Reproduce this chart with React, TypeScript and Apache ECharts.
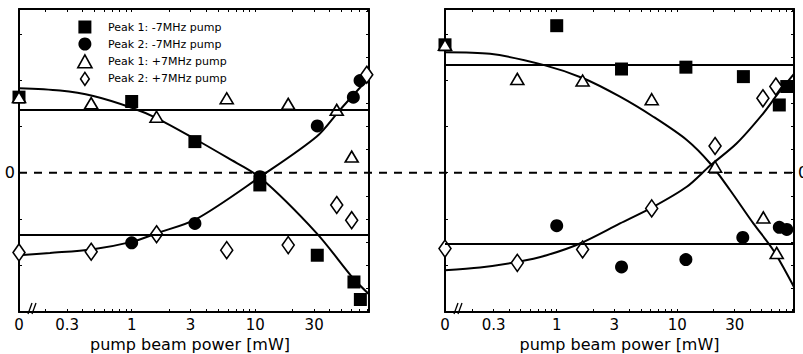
import React, { useEffect, useRef } from 'react';
import * as echarts from 'echarts';

// ---- data (x in mW, 0 = no pump; y in arbitrary frequency-shift units) ----
const seriesNames = ['Peak 1: -7MHz pump', 'Peak 2: -7MHz pump', 'Peak 1: +7MHz pump', 'Peak 2: +7MHz pump'];
const xTickLabelValues = [0, 0.3, 1, 3, 10, 30];
const xTickLabelTexts = ['0', '0.3', '1', '3', '10', '30'];
const xMinorTicks = [0.2, 0.3, 0.4, 0.5, 0.6, 0.7, 0.8, 0.9, 1, 2, 3, 4, 5, 6, 7, 8, 9, 10, 20, 30, 40, 50, 60, 70, 80, 90];
const yTicksEvery2 = [-6, -4, -2, 0, 2, 4, 6];
const yTicksEvery1 = [-6, -5, -4, -3, -2, -1, 0, 1, 2, 3, 4, 5, 6, 7];
const yRange = [-6.043, 7.104];
const leftRangeMw = [0.1224, 83.4];
const rightRangeMw = [0.1183, 93.1];

const leftSquares = [[0, 3.28], [1, 3.09], [3.25, 1.35], [10.9, -0.53], [31.8, -3.58], [63, -4.74], [71, -5.5]];
const leftCircles = [[1, -3.04], [3.25, -2.2], [10.9, -0.17], [31.8, 2.03], [62.3, 3.28], [70.6, 4.0]];
const leftTriangles = [[0, 3.28], [0.47, 3.02], [1.59, 2.43], [5.88, 3.23], [18.5, 2.99], [45.7, 2.73], [60.4, 0.7]];
const leftDiamonds = [[0, -3.46], [0.47, -3.43], [1.59, -2.67], [5.88, -3.36], [18.5, -3.14], [45.7, -1.4], [60.4, -2.06], [80, 4.25]];
const leftCurveA = [[0, 3.67], [0.263, 3.57], [0.489, 3.33], [1.0, 2.82], [1.59, 2.37], [3.36, 1.42], [6.0, 0.64], [10.9, -0.2], [31.5, -2.63], [62.3, -4.59], [83.4, -5.27]];
const leftCurveB = [[0, -3.58], [0.218, -3.48], [0.474, -3.33], [1, -3.0], [1.59, -2.63], [3.36, -2.0], [10.9, -0.19], [31.5, 1.57], [48.6, 2.73], [83.4, 4.12]];
const leftLevels = [2.73, -2.71];

const rightSquares = [[0, 5.55], [1, 6.38], [3.45, 4.5], [11.8, 4.58], [35.4, 4.17], [70.3, 2.94], [81.1, 3.74]];
const rightCircles = [[1, -2.3], [3.45, -4.09], [11.8, -3.77], [35.0, -2.81], [70.3, -2.37], [81.1, -2.46]];
const rightTriangles = [[0, 5.55], [0.471, 4.07], [1.64, 4.0], [6.14, 3.19], [20.6, 0.26], [51.8, -1.94], [66.9, -3.48]];
const rightDiamonds = [[0, -3.29], [0.471, -3.91], [1.64, -3.33], [6.14, -1.55], [20.6, 1.16], [51.4, 3.23], [65.8, 3.74]];
const rightCurveA = [[0, 5.23], [0.28, 5.16], [0.774, 4.68], [1.66, 4.1], [3.35, 3.3], [6.33, 2.43], [12.0, 1.42], [18.7, 0.41], [27.4, -0.75], [42.8, -2.2], [62.7, -3.36], [93.1, -4.96]];
const rightCurveB = [[0, -4.23], [0.231, -4.11], [0.471, -3.87], [0.826, -3.58], [1.56, -3.07], [3.35, -2.2], [6.33, -1.48], [12.0, -0.61], [18.7, 0.3], [31.2, 1.28], [51.8, 2.58], [69.0, 3.45], [93.1, 4.29]];
const rightLevels = [4.68, -3.1];

const FONT = 'DejaVu Sans';

const toAxisX = (p: number, minMw: number) => (p === 0 ? Math.log10(minMw) : Math.log10(p));

function buildPanel(idx: number, cfg: any) {
  const [minMw, maxMw] = cfg.range;
  const xmin = Math.log10(minMw);
  const xmax = Math.log10(maxMw);
  const conv = (arr: number[][]) => arr.map(([p, y]) => [toAxisX(p, minMw), y]);
  const labelVals = xTickLabelValues.map((p) => toAxisX(p, minMw));
  const fmt = (v: number) => {
    for (let i = 0; i < labelVals.length; i++) if (Math.abs(labelVals[i] - v) < 1e-6) return xTickLabelTexts[i];
    return '';
  };
  const minorVals = xMinorTicks.filter((p) => p > minMw && p < maxMw).map((p) => Math.log10(p));
  const axisLine = { show: true, onZero: false, lineStyle: { color: '#000', width: 2 } };
  const xAxes = [
    {
      type: 'value', gridIndex: idx, position: 'bottom', min: xmin, max: xmax,
      axisLine,
      axisTick: { show: true, inside: true, length: 3, customValues: minorVals, lineStyle: { color: '#000', width: 1 } },
      axisLabel: { show: true, customValues: labelVals, formatter: fmt, margin: 5, fontSize: 15, lineHeight: 15, color: '#000', fontFamily: FONT },
      splitLine: { show: false },
      name: 'pump beam power [mW]', nameLocation: 'middle', nameGap: 24, nameMoveOverlap: false,
      nameTextStyle: { fontSize: 16, lineHeight: 16, color: '#000', fontFamily: FONT, padding: cfg.namePad },
    },
    {
      type: 'value', gridIndex: idx, position: 'top', min: xmin, max: xmax,
      axisLine,
      axisTick: { show: true, inside: true, length: 3, customValues: minorVals, lineStyle: { color: '#000', width: 1 } },
      axisLabel: { show: false },
      splitLine: { show: false },
    },
  ];
  const yAxes = [
    {
      type: 'value', gridIndex: idx, position: 'left', min: yRange[0], max: yRange[1],
      axisLine,
      axisTick: { show: true, inside: true, length: 3, customValues: yTicksEvery2, lineStyle: { color: '#000', width: 1 } },
      axisLabel: cfg.labelSide === 'left'
        ? { show: true, customValues: [0], formatter: () => '0', margin: 4, fontSize: 16, color: '#000', fontFamily: FONT }
        : { show: false },
      splitLine: { show: false },
    },
    {
      type: 'value', gridIndex: idx, position: 'right', min: yRange[0], max: yRange[1],
      axisLine,
      axisTick: { show: true, inside: true, length: 3, customValues: yTicksEvery1, lineStyle: { color: '#000', width: 1 } },
      axisLabel: cfg.labelSide === 'right'
        ? { show: true, customValues: [0], formatter: () => '0', margin: 4, fontSize: 16, color: '#000', fontFamily: FONT }
        : { show: false },
      splitLine: { show: false },
    },
  ];
  const ax = { xAxisIndex: idx * 2, yAxisIndex: idx * 2 };
  const lineBase = {
    type: 'line', ...ax, smooth: 0.3, symbol: 'none', showSymbol: false, silent: true, z: 2,
    lineStyle: { color: '#000', width: 2 },
  };
  const openStyle = { color: '#fff', borderColor: '#000', borderWidth: 1.6, opacity: 1 };
  const solidStyle = { color: '#000', opacity: 1 };
  const series = [
    {
      ...lineBase, data: conv(cfg.curveA),
      markLine: {
        silent: true, symbol: ['none', 'none'], label: { show: false },
        lineStyle: { color: '#000', width: 2, type: 'solid' },
        data: cfg.levels.map((v: number) => ({ yAxis: v })),
      },
    },
    { ...lineBase, data: conv(cfg.curveB) },
    { type: 'scatter', ...ax, name: seriesNames[0], data: conv(cfg.squares), symbol: 'rect', symbolSize: 13, itemStyle: solidStyle, z: 3 },
    { type: 'scatter', ...ax, name: seriesNames[1], data: conv(cfg.circles), symbol: 'circle', symbolSize: 13, itemStyle: solidStyle, z: 3 },
    { type: 'scatter', ...ax, name: seriesNames[2], data: conv(cfg.triangles), symbol: 'triangle', symbolSize: [13, 11], itemStyle: openStyle, z: 4 },
    { type: 'scatter', ...ax, name: seriesNames[3], data: conv(cfg.diamonds), symbol: 'diamond', symbolSize: [12, 17], itemStyle: openStyle, z: 4 },
  ];
  return { xAxes, yAxes, series, xmin, xmax };
}

export default function App() {
  const ref = useRef<HTMLDivElement>(null);
  useEffect(() => {
    if (!ref.current) return;
    const chart = echarts.init(ref.current, undefined, { renderer: 'svg' });
    const left = buildPanel(0, {
      range: leftRangeMw, labelSide: 'left', namePad: [0, 8, 0, 0],
      curveA: leftCurveA, curveB: leftCurveB, levels: leftLevels,
      squares: leftSquares, circles: leftCircles, triangles: leftTriangles, diamonds: leftDiamonds,
    });
    const right = buildPanel(1, {
      range: rightRangeMw, labelSide: 'right', namePad: [0, 0, 0, 0],
      curveA: rightCurveA, curveB: rightCurveB, levels: rightLevels,
      squares: rightSquares, circles: rightCircles, triangles: rightTriangles, diamonds: rightDiamonds,
    });
    const openIcon = { color: '#fff', borderColor: '#000', borderWidth: 1.6, opacity: 1 };
    chart.setOption({
      animation: false,
      textStyle: { fontFamily: FONT },
      grid: [
        { left: 19, top: 9, width: 350, height: 303, outerBoundsMode: 'none', containLabel: false },
        { left: 445, top: 9, width: 349, height: 303, outerBoundsMode: 'none', containLabel: false },
      ],
      legend: {
        orient: 'vertical', left: 77, top: 20, padding: 0,
        itemWidth: 36, itemHeight: 13, itemGap: 3,
        selectedMode: false,
        textStyle: { fontSize: 11, color: '#000', fontFamily: FONT, lineHeight: 14 },
        data: [
          { name: seriesNames[0], icon: 'path://M0,0H10V10H0Z', itemStyle: { color: '#000', opacity: 1 } },
          { name: seriesNames[1], icon: 'circle', itemStyle: { color: '#000', opacity: 1 } },
          { name: seriesNames[2], icon: 'path://M6,0L12,11L0,11Z', itemStyle: openIcon },
          { name: seriesNames[3], icon: 'path://M6,0L12,9L6,18L0,9Z', itemStyle: openIcon },
        ],
      },
      xAxis: [...left.xAxes, ...right.xAxes],
      yAxis: [...left.yAxes, ...right.yAxes],
      series: [...left.series, ...right.series],
    });
    // zero reference line spanning both panels, and axis-break marks
    const pL = chart.convertToPixel({ gridIndex: 0 }, [left.xmin, 0]) as number[];
    const pR = chart.convertToPixel({ gridIndex: 1 }, [right.xmax, 0]) as number[];
    const bL = chart.convertToPixel({ gridIndex: 0 }, [left.xmin, yRange[0]]) as number[];
    const bR = chart.convertToPixel({ gridIndex: 1 }, [right.xmin, yRange[0]]) as number[];
    const breakMarks = (b: number[]) => [0, 4].map((dx) => ({
      type: 'line', z: 10,
      shape: { x1: b[0] + 9 + dx, y1: b[1] + 2, x2: b[0] + 13 + dx, y2: b[1] - 9 },
      style: { stroke: '#000', lineWidth: 1.3 },
    }));
    chart.setOption({
      graphic: [
        {
          type: 'line', z: 1, silent: true,
          shape: { x1: pL[0], y1: pL[1], x2: pR[0], y2: pR[1] },
          style: { stroke: '#000', lineWidth: 2, lineDash: [8, 7] },
        },
        ...breakMarks(bL),
        ...breakMarks(bR),
      ],
    });
    return () => chart.dispose();
  }, []);
  return <div ref={ref} style={{ position: 'fixed', left: 0, top: 0, width: 803, height: 354, background: '#fff' }} />;
}
